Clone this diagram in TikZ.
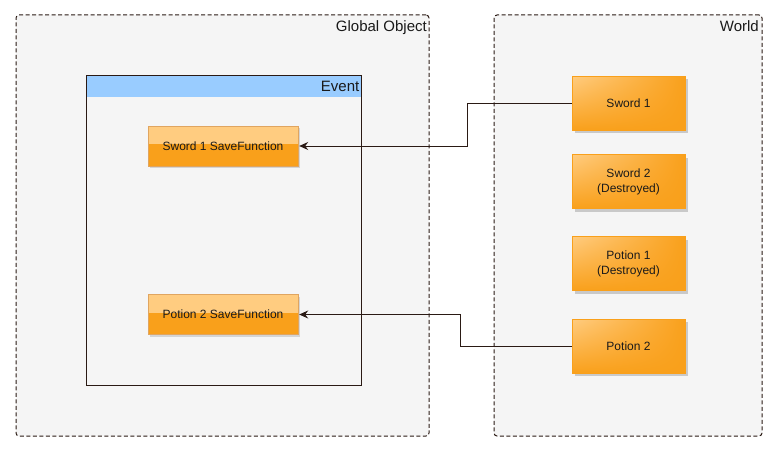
\documentclass[tikz,border=0pt]{standalone}
\usepackage{fontspec}
\setmainfont{Liberation Sans}
\usetikzlibrary{arrows.meta,shadows,shadings}
\definecolor{orng}{HTML}{F9A01B}
\definecolor{orngl}{HTML}{FFCC80}
\definecolor{orngb}{HTML}{E0A560}
\definecolor{cont}{HTML}{F5F5F5}
\definecolor{hdr}{HTML}{99CCFF}
\definecolor{ln}{HTML}{2A1A14}
\definecolor{txt}{HTML}{1A1A1A}
\begin{document}
\begin{tikzpicture}[x=1pt,y=-1pt,
  container/.style={draw=ln, dash pattern=on 4pt off 2.5pt, fill=cont, rounded corners=3pt, line width=1pt, inner sep=0pt},
  title/.style={font=\fontsize{15}{17}\selectfont, text=txt, inner sep=0pt},
  savebox/.style={draw=orngb, fill=orng, minimum width=150pt, minimum height=40pt, inner sep=0pt,
     font=\fontsize{12}{15}\selectfont, text=txt,
     drop shadow={shadow xshift=2pt, shadow yshift=-2pt, fill=black!20, opacity=0.8},
     path picture={\fill[orngl] (path picture bounding box.north west) rectangle ([yshift=-18pt]path picture bounding box.north east);}},
  worldbox/.style={draw=orng, shade, upper left=orngl, upper right=orng, lower left=orng, lower right=orng,
     minimum width=113pt, minimum height=54pt, inner sep=0pt, align=center,
     font=\fontsize{12}{15}\selectfont, text=txt,
     drop shadow={shadow xshift=3pt, shadow yshift=-3pt, fill=black!25, opacity=0.8}},
  conn/.style={draw=ln, line width=1pt, -{Stealth[length=9pt,width=8pt,inset=3pt]}, shorten >=1pt}
]
\useasboundingbox (0,0) rectangle (776,452);
\fill[white] (0,0) rectangle (776,452);

% containers
\node[container, minimum width=413pt, minimum height=421pt] (global) at (222.5,225.5) {};
\node[title, anchor=base east] (globallbl) at (427,32) {Global Object};
\node[container, minimum width=268pt, minimum height=421pt] (world) at (628,225.5) {};
\node[title, anchor=base east] (worldlbl) at (759,32) {World};

% event
\node[draw=ln, line width=1pt, fill=cont, minimum width=275pt, minimum height=310pt, inner sep=0pt,
  path picture={\fill[hdr] (path picture bounding box.north west) rectangle ([yshift=-22pt]path picture bounding box.north east);}]
  (event) at (223.5,230) {};
\node[title, anchor=base east] (eventlbl) at (359.5,92) {Event};

% save functions
\node[savebox] (sf1) at (223,146) {Sword 1 SaveFunction};
\node[savebox] (pf2) at (223,314.5) {Potion 2 SaveFunction};

% world objects
\node[worldbox] (sword1) at (628.5,103) {Sword 1};
\node[worldbox] (sword2) at (628.5,181.5) {Sword 2\\(Destroyed)};
\node[worldbox] (potion1) at (628.5,263.5) {Potion 1\\(Destroyed)};
\node[worldbox] (potion2) at (628.5,346) {Potion 2};

% connectors
\draw[conn] (sword1.west) -- ++(-104,0) |- (sf1.east);
\draw[conn] (potion2.west) -- ++(-111,0) |- (pf2.east);
\end{tikzpicture}
\end{document}
